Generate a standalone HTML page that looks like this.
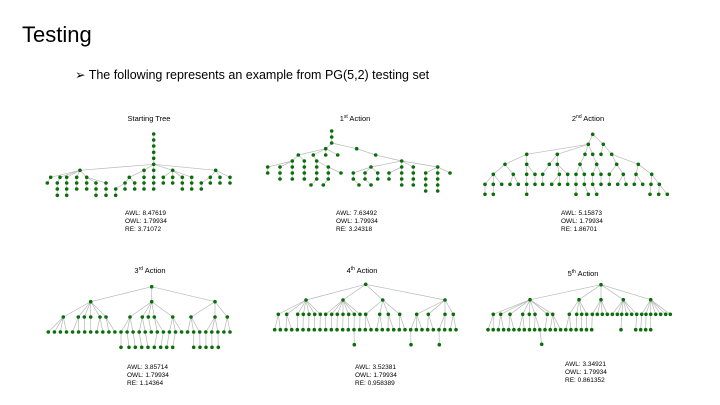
<!DOCTYPE html>
<html><head><meta charset="utf-8"><style>
body{margin:0;background:#fff;}
svg{display:block;font-family:"Liberation Sans",sans-serif;}
</style></head><body>
<svg id="s" width="720" height="405" viewBox="0 0 720 405" xmlns="http://www.w3.org/2000/svg">
<text x="22" y="42" font-size="22" fill="#000">Testing</text>
<text x="75" y="79" font-size="12.5" fill="#000">➢  The following represents an example from PG(5,2) testing set</text>
<g font-size="7.5" fill="#000" text-anchor="middle">
<text x="149" y="121">Starting Tree</text>
<text x="355" y="121">1<tspan font-size="5" dy="-3">st</tspan><tspan dy="3"> Action</tspan></text>
<text x="588" y="121">2<tspan font-size="5" dy="-3">nd</tspan><tspan dy="3"> Action</tspan></text>
<text x="150" y="273">3<tspan font-size="5" dy="-3">rd</tspan><tspan dy="3"> Action</tspan></text>
<text x="362" y="273">4<tspan font-size="5" dy="-3">th</tspan><tspan dy="3"> Action</tspan></text>
<text x="583" y="276">5<tspan font-size="5" dy="-3">th</tspan><tspan dy="3"> Action</tspan></text>
</g>
<g font-size="6.5" fill="#000">
<text x="125" y="215">AWL: 8.47619</text><text x="125" y="223">OWL: 1.79934</text><text x="125" y="231">RE: 3.71072</text>
<text x="336" y="215">AWL: 7.63492</text><text x="336" y="223">OWL: 1.79934</text><text x="336" y="231">RE: 3.24318</text>
<text x="561" y="215">AWL: 5.15873</text><text x="561" y="223">OWL: 1.79934</text><text x="561" y="231">RE: 1.86701</text>
<text x="127" y="369">AWL: 3.85714</text><text x="127" y="377">OWL: 1.79934</text><text x="127" y="385">RE: 1.14364</text>
<text x="355" y="369">AWL: 3.52381</text><text x="355" y="377">OWL: 1.79934</text><text x="355" y="385">RE: 0.958389</text>
<text x="565" y="366">AWL: 3.34921</text><text x="565" y="374">OWL: 1.79934</text><text x="565" y="382">RE: 0.861352</text>
</g>
<g id="trees"></g>
</svg>
<script>
function range(a,b,n){var r=[];for(var i=0;i<n;i++)r.push(a+(b-a)*i/(n-1));return r;}
var T=[
 {ox:30,oy:100,rows:[[102,[371]],[120,[371]],[138,[371]],[157,[371]],[175,[371]],[193,[371]],[211,[150,342,371,428,557]],[232,[62,90,110,140,170,298,342,371,400,428,457,485,541,570,600]],[249,[52,82,110,140,170,198,228,285,314,342,371,400,428,457,485,514,541,570,600]],[267,[82,110,140,170,198,228,257,285,314,342,371,457,485,514]],[286,[82,110,198,228,257]]]},
 {ox:255,oy:105,rows:[[78,[230]],[96,[230]],[114,[230]],[131,[212,305]],[150,[130,175,212,248,362]],[168,[112,148,185,440]],[186,[38,75,112,148,185,220,348,440,475,548]],[204,[38,75,112,148,185,220,258,295,330,368,402,440,475,512,548,585]],[222,[75,112,148,185,220,295,330,368,402,440,475,512,548]],[240,[168,205,312,348,440,475,512,548]],[258,[512,548]]]},
 {ox:470,oy:105,rows:[[88,[368]],[118,[355,400]],[148,[170,262,345,368,393,425]],[178,[105,170,238,262,330,380,440,505]],[208,[70,130,170,195,218,268,293,318,343,368,393,418,460,498,545]],[238,[45,70,95,120,145,170,195,218,245,268,293,318,343,368,393,418,443,468,493,518,543,568]],[268,[45,70,170,318,355,380,540,566,592]]]},
 {ox:30,oy:260,rows:[[80,[365]],[125,[182,365,555]],[171,[100,145,163,182,210,228,300,337,355,373,428,483,555,592]],[216,range(55,600,31)],[262,[273,297,316,335,354,373,392,410,428,491,510,528,546,565]]]},
 {ox:260,oy:260,rows:[[73,[317]],[120,[138,249,368,555]],[163,[55,80,113,130,147,164,181,197,215,232,249,266,283,300,317,359,385,419,470,505,555,580]],[209,range(44,588,33)],[254,[283,453,538]]]},
 {ox:480,oy:260,rows:[[74,[363]],[119,[150,297,363,430,512]],[163,[40,62,90,128,148,165,202,218,268,290,305,320,337,352,367,382,397,412,425,440,455,470,485,498,512,527,542,557,571]],[209,range(24,335,21).concat([423,467,482,497,512])],[253,[185]]]}
];
var L='',D='';
T.forEach(function(t){
 var prev=null;
 t.rows.forEach(function(r){
  var y=t.oy+r[0]/3;
  r[1].forEach(function(xx){
   var x=t.ox+xx/3;
   if(prev){var best=prev[0],bd=1e9;prev.forEach(function(p){var d=Math.abs(p-x);if(d<bd){bd=d;best=p;}});
    L+='<line x1="'+best.toFixed(1)+'" y1="'+prev.y.toFixed(1)+'" x2="'+x.toFixed(1)+'" y2="'+y.toFixed(1)+'"/>';}
   D+='<circle cx="'+x.toFixed(1)+'" cy="'+y.toFixed(1)+'" r="1.8"/>';
  });
  prev=r[1].map(function(xx){return t.ox+xx/3;});prev.y=y;
 });
});
document.getElementById('trees').innerHTML='<g stroke="#b8b8b8" stroke-width="0.7">'+L+'</g><g fill="#0a6e0a">'+D+'</g>';
</script>
</body></html>
